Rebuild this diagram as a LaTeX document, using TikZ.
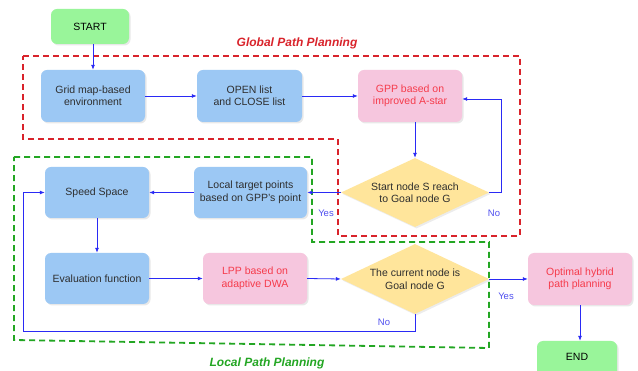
\documentclass[tikz,border=0pt]{standalone}
\usepackage{fontspec}
\setmainfont{Liberation Sans}
\usetikzlibrary{arrows.meta,shapes.geometric,shadows,calc}

\definecolor{boxblue}{HTML}{9CC8F4}
\definecolor{boxpink}{HTML}{F6C6DE}
\definecolor{boxgreen}{HTML}{99F59A}
\definecolor{boxyellow}{HTML}{FFE59B}
\definecolor{txtdark}{HTML}{2E2E2E}
\definecolor{txtred}{HTML}{F53B4B}
\definecolor{flowblue}{HTML}{2A2AF5}
\definecolor{lblblue}{HTML}{5050F0}
\definecolor{gppred}{HTML}{D9232B}
\definecolor{lppgreen}{HTML}{23A623}

\tikzset{
  base/.style={rounded corners=6pt, draw=none, inner sep=1pt, align=center,
    font=\fontsize{10.5}{12.5}\selectfont, text=txtdark,
    drop shadow={shadow xshift=1.5pt, shadow yshift=-1.5pt, opacity=0.18}},
  bluebox/.style={base, fill=boxblue, minimum width=104pt, minimum height=51pt},
  pinkbox/.style={base, fill=boxpink, text=txtred, minimum width=104pt, minimum height=52pt},
  termbox/.style={base, fill=boxgreen, text=black},
  decision/.style={diamond, shape aspect=2, fill=boxyellow, inner sep=0pt, align=center,
    font=\fontsize{10.5}{12.5}\selectfont, text=txtdark,
    minimum width=148pt, minimum height=70pt,
    drop shadow={shadow xshift=1.5pt, shadow yshift=-1.5pt, opacity=0.15}},
  flow/.style={draw=flowblue, line width=0.8pt, -{Latex[length=5pt,width=4pt]}},
  lbl/.style={text=lblblue, font=\fontsize{9.5}{11}\selectfont, inner sep=0pt},
  region/.style={line width=1.8pt, dash pattern=on 6pt off 4pt},
  regiontitle/.style={font=\fontsize{12}{14}\selectfont\bfseries\itshape, inner sep=0pt}
}

\begin{document}
\begin{tikzpicture}[x=1pt,y=-1pt]
  \useasboundingbox (0,0) rectangle (638,371);
  \clip (0,0) rectangle (638,371);
  \fill[white] (0,0) rectangle (638,371);

  % dashed region outlines
  \draw[region, draw=gppred] (23,56) -- (520,56) -- (520,236) -- (338,236)
    -- (338,139) -- (23,139) -- cycle;
  \draw[region, draw=lppgreen] (14,157) -- (312,157) -- (312,242) -- (489,242)
    -- (489,348) -- (14,340) -- cycle;
  \node[regiontitle, text=gppred] (gpptitle) at (297,43) {Global Path Planning};
  \node[regiontitle, text=lppgreen] (lpptitle) at (267,363) {Local Path Planning};

  % process nodes
  \node[termbox, minimum width=78pt, minimum height=35pt] (start) at (90,26.5) {START};
  \node[bluebox, minimum height=52pt] (grid) at (93,96) {Grid map-based\\environment};
  \node[bluebox, minimum width=105pt, minimum height=52pt] (open) at (249.5,96) {OPEN list\\and CLOSE list};
  \node[pinkbox] (gpp) at (410,96) {GPP based on\\improved A-star};
  \node[decision, minimum height=69pt] (d1) at (415,192.5) {Start node S reach\\to Goal node G};
  \node[bluebox, minimum width=113pt] (local) at (250.5,192.5) {Local target points\\based on GPP's point};
  \node[bluebox] (speed) at (97,192.5) {Speed Space};
  \node[bluebox] (eval) at (97,278.5) {Evaluation function};
  \node[pinkbox, minimum height=51pt] (lpp) at (255,278.5) {LPP based on\\adaptive DWA};
  \node[decision] (d2) at (415,279) {The current node is\\Goal node G};
  \node[pinkbox] (opt) at (580,279) {Optimal hybrid\\path planning};
  \node[termbox, minimum width=80pt, minimum height=38pt, text depth=0pt] (end) at (577,360) {\raisebox{7pt}{END}};

  \coordinate (noturn) at (23,331);

  % connectors
  \draw[flow] (grid.north |- start.south) -- (grid.north);
  \draw[flow] (grid.east) -- (open.west);
  \draw[flow] (open.east) -- (gpp.west);
  \draw[flow] (d1.north |- gpp.south) -- (d1.north);
  \draw[flow] (d1.east) -- ++(12,0) |- ($(gpp.east)+(0,3)$);
  \draw[flow] (d1.west) -- (local.east);
  \draw[flow] (local.west) -- (speed.east);
  \draw[flow] (speed.south) -- (eval.north);
  \draw[flow] (eval.east) -- (lpp.west);
  \draw[flow] (lpp.east) -- (d2.west);
  \draw[flow] (d2.east) -- (opt.west);
  \draw[flow] (d2.south) |- (noturn) |- (speed.west);
  \draw[flow] (opt.south) -- (opt.south |- end.north);

  % branch labels
  \node[lbl] (yes1) at (326,213) {Yes};
  \node[lbl] (no1) at (494,213) {No};
  \node[lbl] (yes2) at (506,296) {Yes};
  \node[lbl] (no2) at (384,322) {No};
\end{tikzpicture}
\end{document}
